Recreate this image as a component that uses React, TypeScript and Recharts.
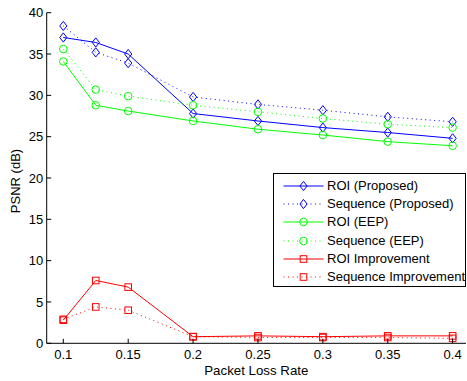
import React from "react";
import { LineChart, Line, XAxis, YAxis, Legend } from "recharts";

const packetLoss = [0.1, 0.125, 0.15, 0.2, 0.25, 0.3, 0.35, 0.4];
const roiProposed = [37.0, 36.4, 35.0, 27.8, 26.9, 26.1, 25.5, 24.8];
const seqProposed = [38.4, 35.2, 33.9, 29.8, 28.9, 28.2, 27.4, 26.8];
const roiEEP = [34.1, 28.8, 28.1, 26.9, 25.9, 25.2, 24.4, 23.9];
const seqEEP = [35.6, 30.7, 29.9, 28.8, 28.0, 27.2, 26.5, 26.1];
const roiImprovement = [2.8, 7.6, 6.8, 0.8, 0.9, 0.8, 0.9, 0.9];
const seqImprovement = [2.9, 4.4, 4.0, 0.8, 0.7, 0.7, 0.7, 0.6];

const xTicks = [0.1, 0.15, 0.2, 0.25, 0.3, 0.35, 0.4];
const yTicks = [0, 5, 10, 15, 20, 25, 30, 35, 40];

const FONT = "'Liberation Sans', Arial, Helvetica, sans-serif";
const INNER_TICK = 4.5;
const X_TICK_MARGIN = 6;
const Y_TICK_MARGIN = 3.5;

type Shape = "diamond" | "circle" | "square";

const series: { key: string; name: string; color: string; dotted: boolean; shape: Shape }[] = [
  { key: "roiP", name: "ROI (Proposed)", color: "#0000ff", dotted: false, shape: "diamond" },
  { key: "seqP", name: "Sequence (Proposed)", color: "#0000ff", dotted: true, shape: "diamond" },
  { key: "roiE", name: "ROI (EEP)", color: "#00ff00", dotted: false, shape: "circle" },
  { key: "seqE", name: "Sequence (EEP)", color: "#00ff00", dotted: true, shape: "circle" },
  { key: "roiI", name: "ROI Improvement", color: "#ff0000", dotted: false, shape: "square" },
  { key: "seqI", name: "Sequence Improvement", color: "#ff0000", dotted: true, shape: "square" },
];

const data = packetLoss.map((x, i) => ({
  x,
  roiP: roiProposed[i],
  seqP: seqProposed[i],
  roiE: roiEEP[i],
  seqE: seqEEP[i],
  roiI: roiImprovement[i],
  seqI: seqImprovement[i],
}));

function Marker({ shape, cx, cy, color }: { shape: Shape; cx: number; cy: number; color: string }) {
  if (shape === "diamond") {
    return (
      <path
        d={`M${cx},${cy - 4.6} L${cx + 3.6},${cy} L${cx},${cy + 4.6} L${cx - 3.6},${cy} Z`}
        fill="none"
        stroke={color}
        strokeWidth={1}
      />
    );
  }
  if (shape === "circle") {
    return <circle cx={cx} cy={cy} r={3.8} fill="none" stroke={color} strokeWidth={1} />;
  }
  return <rect x={cx - 3.3} y={cy - 3.3} width={6.6} height={6.6} fill="none" stroke={color} strokeWidth={1} />;
}

const XTick = (props: any) => {
  const { x, y, payload } = props;
  const axisY = y - X_TICK_MARGIN;
  return (
    <g>
      <line x1={x} x2={x} y1={axisY} y2={axisY - INNER_TICK} stroke="#000" />
      <text x={x} y={y} dy="0.71em" textAnchor="middle" fill="#000" fontSize={13} fontFamily={FONT}>
        {payload.value}
      </text>
    </g>
  );
};

const YTick = (props: any) => {
  const { x, y, payload } = props;
  const axisX = x + Y_TICK_MARGIN;
  return (
    <g>
      <line x1={axisX} x2={axisX + INNER_TICK} y1={y} y2={y} stroke="#000" />
      <text x={x} y={y} dy="0.36em" textAnchor="end" fill="#000" fontSize={13} fontFamily={FONT}>
        {payload.value}
      </text>
    </g>
  );
};

const noTick = () => <g />;

const LegendBox = () => (
  <div
    style={{
      border: "1px solid #000",
      background: "#fff",
      boxSizing: "border-box",
      width: 193,
      height: 114,
      padding: "3px 0 0 0",
      fontFamily: FONT,
      fontSize: 13,
    }}
  >
    {series.map((s) => (
      <div key={s.key} style={{ display: "flex", alignItems: "center", height: 18.2 }}>
        <svg width={53} height={18} style={{ flex: "none" }}>
          <line
            x1={9.5}
            x2={49.5}
            y1={9}
            y2={9}
            stroke={s.color}
            strokeWidth={1}
            strokeDasharray={s.dotted ? "1 3.5" : undefined}
          />
          <Marker shape={s.shape} cx={29.5} cy={9} color={s.color} />
        </svg>
        <span style={{ whiteSpace: "nowrap", lineHeight: "18px" }}>{s.name}</span>
      </div>
    ))}
  </div>
);

export default function App() {
  return (
    <div style={{ position: "absolute", left: 0, top: 0, background: "#fff" }}>
      <LineChart
        width={467}
        height={381}
        data={data}
        margin={{ top: 12.7, right: 1, left: 0, bottom: 0 }}
      >
        <XAxis
          dataKey="x"
          type="number"
          domain={[0.0872, 0.4103]}
          ticks={xTicks}
          allowDataOverflow
          height={37.7}
          tickLine={false}
          tickSize={0}
          tickMargin={X_TICK_MARGIN}
          tick={XTick}
          axisLine={{ stroke: "#000", strokeWidth: 1 }}
          label={(p: any) => (
            <text
              x={p.viewBox.x + p.viewBox.width / 2}
              y={p.viewBox.y + 31.3}
              textAnchor="middle"
              fontSize={13.3}
              fontFamily={FONT}
              fill="#000"
            >
              Packet Loss Rate
            </text>
          )}
        />
        <XAxis
          xAxisId="top"
          dataKey="x"
          type="number"
          orientation="top"
          mirror
          domain={[0.0872, 0.4103]}
          ticks={xTicks}
          allowDataOverflow
          height={0}
          tickSize={INNER_TICK}
          tick={noTick}
          tickLine={{ stroke: "#000" }}
          axisLine={{ stroke: "#000", strokeWidth: 1 }}
        />
        <YAxis
          type="number"
          domain={[0, 40]}
          ticks={yTicks}
          width={46.7}
          tickLine={false}
          tickSize={0}
          tickMargin={Y_TICK_MARGIN}
          tick={YTick}
          axisLine={{ stroke: "#000", strokeWidth: 1 }}
          label={(p: any) => {
            const cx = p.viewBox.x + 19.5;
            const cy = p.viewBox.y + p.viewBox.height / 2 + 3;
            return (
              <text
                x={cx}
                y={cy}
                transform={`rotate(-90 ${cx} ${cy})`}
                textAnchor="middle"
                fontSize={13}
                fontFamily={FONT}
                fill="#000"
              >
                PSNR (dB)
              </text>
            );
          }}
        />
        <YAxis
          yAxisId="right"
          orientation="right"
          mirror
          type="number"
          domain={[0, 40]}
          ticks={yTicks}
          width={0}
          tickSize={INNER_TICK}
          tick={noTick}
          tickLine={{ stroke: "#000" }}
          axisLine={{ stroke: "#000", strokeWidth: 1 }}
        />
        {series.map((s) => (
          <Line
            key={s.key}
            dataKey={s.key}
            name={s.name}
            type="linear"
            stroke={s.color}
            strokeWidth={1}
            strokeDasharray={s.dotted ? "1 3.5" : undefined}
            dot={(p: any) => (
              <Marker key={`${s.key}-${p.index}`} shape={s.shape} cx={p.cx} cy={p.cy} color={s.color} />
            )}
            activeDot={false}
            isAnimationActive={false}
          />
        ))}
        <Legend
          layout="vertical"
          align="center"
          verticalAlign="middle"
          content={LegendBox}
          wrapperStyle={{ left: 273, top: 173, width: 193, height: 114 }}
        />
      </LineChart>
    </div>
  );
}
